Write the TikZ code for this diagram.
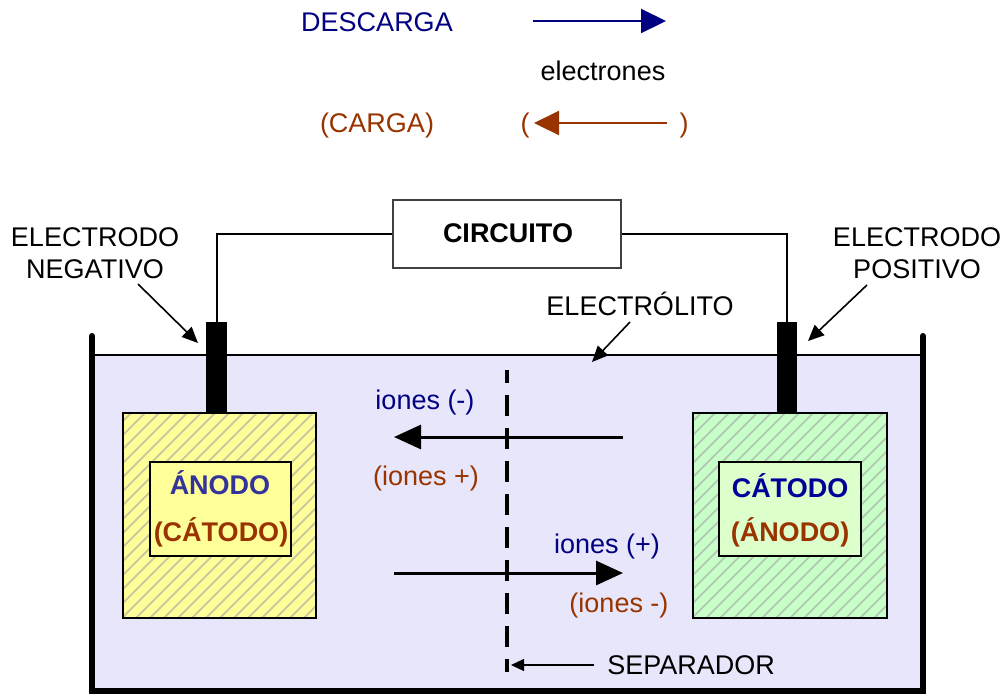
\documentclass[tikz,border=0pt]{standalone}
\usepackage{fontspec}
\setmainfont{Liberation Sans}
\usetikzlibrary{arrows.meta}
\definecolor{navy}{HTML}{000080}
\definecolor{anodoblue}{HTML}{333399}
\definecolor{catblue}{HTML}{000099}
\definecolor{brown}{HTML}{993300}
\definecolor{liquid}{HTML}{E8E6FA}
\definecolor{yel}{HTML}{FFFF99}
\definecolor{grn}{HTML}{C8FFC8}
\definecolor{grnin}{HTML}{DDFFCC}
\definecolor{hatch}{HTML}{A0A0A0}
\begin{document}
\begin{tikzpicture}[x=0.5pt,y=-0.5pt,
  lbl/.style={font=\fontsize{13.5}{16}\selectfont, inner sep=0pt, text height=9.7pt, text depth=0pt},
  lbl2/.style={font=\fontsize{13.5}{16}\selectfont, inner sep=0pt, align=center},
  bld/.style={lbl, font=\fontsize{13.5}{16}\selectfont\bfseries},
  wire/.style={line width=1pt},
  ionarrow/.style={line width=1.5pt, -{Triangle[length=13.5pt,width=12pt]}},
  notearrow/.style={line width=0.8pt, -{Triangle[length=8pt,width=7pt]}},
  hatchline/.style={hatch, line width=0.9pt, opacity=0.55}
]
\useasboundingbox (0,0) rectangle (1007,693);

% legend
\node[lbl, text=navy] (desc) at (377,22) {DESCARGA};
\coordinate (da) at (533,21);
\coordinate (db) at (666,21);
\draw[navy, line width=1.1pt, -{Triangle[length=12.5pt,width=12pt]}] (da) -- (db);
\node[lbl] (elec) at (603,71) {electrones};
\node[lbl, text=brown] (carga) at (377,123) {(CARGA)};
\node[lbl, text=brown] (pl) at (525,123) {(};
\node[lbl, text=brown] (pr) at (684,123) {)};
\coordinate (ca) at (667,123);
\coordinate (cb) at (534,123);
\draw[brown, line width=1.1pt, -{Triangle[length=12.5pt,width=12pt]}] (ca) -- (cb);

% container liquid
\fill[liquid] (95,355) rectangle (920,690);
\draw[line width=0.6pt] (95,355) -- (920,355);
\draw[line width=3pt, line cap=round] (92,336) -- (92,700);
\draw[line width=3pt, line cap=round] (923,336) -- (923,700);
\draw[line width=3pt] (89,690.5) -- (926,690.5);

% left electrode with hatching
\fill[yel] (123,413) rectangle (316,618);
\begin{scope}
  \clip (123,413) rectangle (316,618);
  \foreach \c in {530,544,...,940} \draw[hatchline] (\c-700,700) -- (\c-300,300);
\end{scope}
\draw[line width=1pt] (123,413) rectangle (316,618);

% right electrode with hatching
\fill[grn] (693,413) rectangle (887,618);
\begin{scope}
  \clip (693,413) rectangle (887,618);
  \foreach \c in {1100,1114,...,1510} \draw[hatchline] (\c-700,700) -- (\c-300,300);
\end{scope}
\draw[line width=1pt] (693,413) rectangle (887,618);

% inner label boxes
\node[draw, line width=0.8pt, fill=yel, minimum width=70.5pt, minimum height=47pt, inner sep=0pt] (anbox) at (220.5,509) {};
\node[bld, text=anodoblue] (an1) at (220,485) {ÁNODO};
\node[bld, text=brown] (an2) at (221,532) {(CÁTODO)};
\node[draw, line width=0.8pt, fill=grnin, minimum width=71pt, minimum height=47pt, inner sep=0pt] (catbox) at (790,509) {};
\node[bld, text=catblue] (ca1) at (790,488) {CÁTODO};
\node[bld, text=brown] (ca2) at (790,532) {(ÁNODO)};

% rods
\node[fill=black, minimum width=10.5pt, minimum height=45pt, inner sep=0pt, anchor=north] (rodL) at (216.5,322) {};
\node[fill=black, minimum width=10pt, minimum height=45pt, inner sep=0pt, anchor=north] (rodR) at (787,322) {};

% circuit
\node[draw=black!75, line width=0.6pt, fill=white, minimum width=114pt, minimum height=34pt, inner sep=0pt] (circ) at (507,234) {};
\node[bld] (circt) at (508,233) {CIRCUITO};
\draw[wire] (circ.west) -| (rodL.north);
\draw[wire] (circ.east) -| (rodR.north);

% labels with arrows
\node[lbl2] (neg) at (95,253) {ELECTRODO\\NEGATIVO};
\coordinate (negs) at (138,284);
\coordinate (negt) at (198,343);
\draw[notearrow] (negs) -- (negt);

\node[lbl2] (pos) at (917,253) {ELECTRODO\\POSITIVO};
\coordinate (poss) at (867,285);
\coordinate (post) at (808,341);
\draw[notearrow] (poss) -- (post);

\node[lbl] (elyt) at (640,306) {ELECTRÓLITO};
\coordinate (elys) at (630,322);
\coordinate (elyt2) at (592,362);
\draw[notearrow] (elys) -- (elyt2);

% separator
\coordinate (sepa) at (507,370);
\coordinate (sepb) at (507,672);
\draw[line width=1.8pt, dash pattern=on 10.5pt off 6pt, dash phase=4pt] (sepa) -- (sepb);
\node[lbl, anchor=west] (sep) at (607,665) {SEPARADOR};
\coordinate (seps) at (594,665);
\coordinate (sept) at (511,665);
\draw[line width=0.6pt, -{Triangle[length=6.5pt,width=6pt]}] (seps) -- (sept);

% ion arrows
\coordinate (i1a) at (623,437);
\coordinate (i1b) at (394,437);
\draw[ionarrow] (i1a) -- (i1b);
\node[lbl, text=navy] (ineg) at (425,400) {iones (-)};
\node[lbl, text=brown] (ipos2) at (426,476) {(iones +)};

\coordinate (i2a) at (394,573);
\coordinate (i2b) at (623,573);
\draw[ionarrow] (i2a) -- (i2b);
\node[lbl, text=navy] (ipos) at (607,544) {iones (+)};
\node[lbl, text=brown] (ineg2) at (619,603) {(iones -)};
\end{tikzpicture}
\end{document}
